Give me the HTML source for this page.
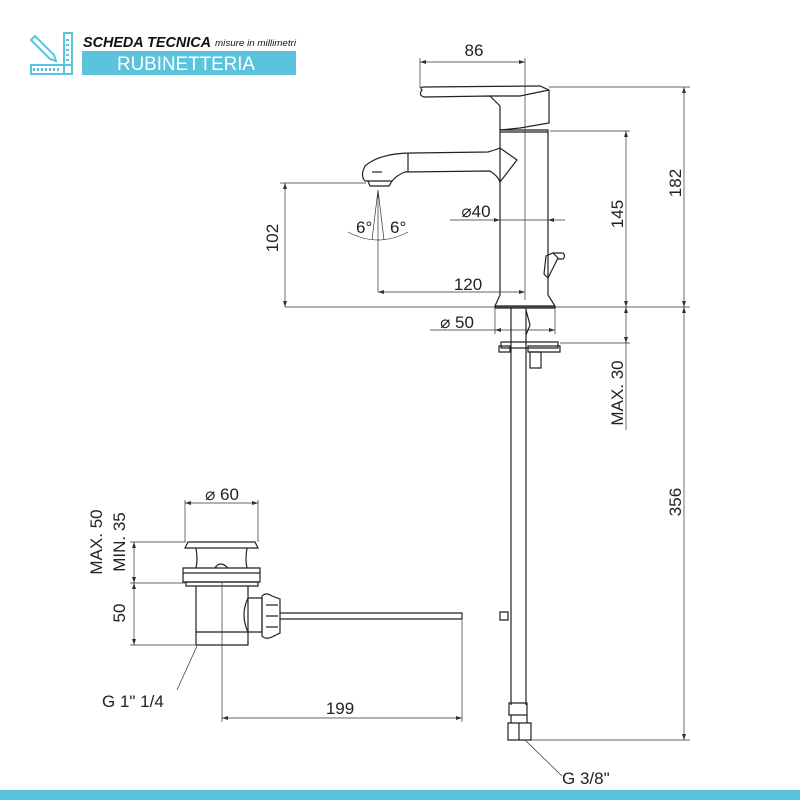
<!DOCTYPE html>
<html><head><meta charset="utf-8"><style>
html,body{margin:0;padding:0;background:#fff;}
svg{display:block;font-family:"Liberation Sans",sans-serif;}
</style></head><body>
<svg width="800" height="800" viewBox="0 0 800 800" xmlns="http://www.w3.org/2000/svg">
<rect width="800" height="800" fill="#fff"/>
<!-- header -->
<g stroke="#5bc3dc" stroke-width="2" fill="none">
  <path d="M31 65 H72 V74 H31 Z"/>
  <path d="M64 33 H72 V74 H64 Z"/>
  <path d="M34 68 v3 M38 68 v3 M42 68 v3 M46 68 v3 M50 68 v3 M54 68 v3 M58 68 v3"/>
  <path d="M66 40 h3 M66 45 h3 M66 50 h3 M66 55 h3 M66 60 h3"/>
  <path d="M31 40 L35 36 L54 55 L56 61 L50 59 Z"/>
</g>
<text x="83" y="47" font-size="15" font-weight="bold" font-style="italic" fill="#111" textLength="128" lengthAdjust="spacingAndGlyphs">SCHEDA TECNICA</text>
<text x="215" y="46" font-size="9" font-style="italic" fill="#111" textLength="81" lengthAdjust="spacingAndGlyphs">misure in millimetri</text>
<rect x="82" y="51" width="214" height="24" fill="#5bc3dc"/>
<text x="117" y="70" font-size="19" fill="#fff" textLength="138" lengthAdjust="spacingAndGlyphs">RUBINETTERIA</text>

<g stroke="#222" stroke-width="1.2" fill="none">
  <path d="M422 90 Q418 95 424 97 L490 96 L500 106 L500 130 L520 128 L549 123 L549 90 L540 86 L424 87 Q419 87 422 90 Z"/>
  <path d="M490 96 L520 96 L549 90"/>
  <path d="M500 130 L548 130 L548 295 L555 306 L495 306 L500 295 Z"/>
  <path d="M500 132 L548 132"/>
  <path d="M495 306 L495 308 L555 308 L555 306"/>
  <path d="M500 148 Q495 150 488 152 L412 153 Q380 153 365 166 Q360 176 365 181 L392 181 Q397 175 405 172 L490 171 Q498 176 500 182"/>
  <path d="M500 148 L517 160 L500 182"/>
  <path d="M408 153 L408 172"/>
  <path d="M368 181 L370 186 L389 186 L392 181"/>
  <path d="M372 172 h10"/>
  <path d="M546 256 L553 253 L558 258 L548 278 L544 274 Z"/>
  <path d="M553 253 L563 253 Q566 256 563 259 L558 259"/>
  <path d="M511 308 V705 M526 308 V705"/>
  <path d="M526 310 L530 325 L526 335"/>
  <path d="M501 342 H558 V348 H501 Z"/>
  <path d="M499 346 H510 V352 H499 Z M528 346 H560 V352 H528 Z"/>
  <path d="M530 352 H541 V368 H530 Z"/>
  <path d="M500 612 H508 V620 H500 Z"/>
  <path d="M509 703 H527 V715 H509 Z"/>
  <path d="M508 723 H531 V740 H508 Z M519 723 V740"/>
  <path d="M511 715 V723 M527 715 V723"/>
  <path d="M185 548 L188 542 L255 542 L258 548 Z"/>
  <path d="M196 548 Q198 560 196 568 M247 548 Q245 560 247 568"/>
  <path d="M215 568 Q220 560 228 568"/>
  <path d="M183 568 H260 V582 H183 Z M183 573 H260"/>
  <path d="M186 582 H258 V586 H186 Z"/>
  <path d="M196 586 V645 H248 V586"/>
  <path d="M196 632 H248"/>
  <path d="M248 598 H262 V632 H248 Q240 615 248 598"/>
  <path d="M262 596 Q266 592 272 596 L280 599 V633 L272 637 Q266 640 262 636 Z"/>
  <path d="M266 605 h12 M266 616 h12 M266 627 h12"/>
  <path d="M280 613 H462 V619 H280"/>
</g>

<g stroke="#333" stroke-width="0.7" fill="none">
  <path d="M420 62 H525 M420 58 V88 M525 58 V300" />
  <path d="M549 87 H690 M285 307 H690 M684 87 V307"/>
  <path d="M550 131 H630 M626 131 V307"/>
  <path d="M280 183 H366 M285 183 V307"/>
  <path d="M378 190 V292 M378 190 L372 240 M378 190 L384 240 M348 232 Q378 248 408 232"/>
  <path d="M378 292 H525"/>
  <path d="M450 220 H565"/>
  <path d="M430 330 H555 M495 308 V334 M555 308 V334"/>
  <path d="M560 343 H630 M626 307 V430"/>
  <path d="M684 307 V740 M530 740 H690"/>
  <path d="M525 740 L562 776"/>
  <path d="M185 503 H258 M185 500 V542 M258 500 V542"/>
  <path d="M130 542 H186 M130 583 H186 M130 645 H196 M134 542 V645"/>
  <path d="M222 582 V722 M462 620 V722 M222 718 H462"/>
  <path d="M197 646 L177 690"/>
</g>
<g fill="#333">
  <path d="M420 62 l6 -2 v4 Z M525 62 l-6 -2 v4 Z"/>
  <path d="M684 87 l-2 6 h4 Z M684 307 l-2 -6 h4 Z"/>
  <path d="M626 131 l-2 6 h4 Z M626 307 l-2 -6 h4 Z M626 307 l-2 6 h4 Z M626 343 l-2 -6 h4 Z"/>
  <path d="M285 183 l-2 6 h4 Z M285 307 l-2 -6 h4 Z"/>
  <path d="M378 292 l6 -2 v4 Z M525 292 l-6 -2 v4 Z"/>
  <path d="M500 220 l-6 -2 v4 Z M548 220 l6 -2 v4 Z"/>
  <path d="M495 330 l6 -2 v4 Z M555 330 l-6 -2 v4 Z"/>
  <path d="M684 307 l-2 6 h4 Z M684 740 l-2 -6 h4 Z"/>
  <path d="M185 503 l6 -2 v4 Z M258 503 l-6 -2 v4 Z"/>
  <path d="M134 542 l-2 6 h4 Z M134 583 l-2 -6 h4 Z M134 583 l-2 6 h4 Z M134 645 l-2 -6 h4 Z"/>
  <path d="M222 718 l6 -2 v4 Z M462 718 l-6 -2 v4 Z"/>
</g>

<g font-size="17" fill="#222">
  <text x="474" y="56" text-anchor="middle">86</text>
  <text x="468" y="290" text-anchor="middle">120</text>
  <text x="476" y="217" text-anchor="middle">⌀40</text>
  <text x="457" y="328" text-anchor="middle">⌀ 50</text>
  <text x="222" y="500" text-anchor="middle">⌀ 60</text>
  <text x="340" y="714" text-anchor="middle">199</text>
  <text x="102" y="707">G 1" 1/4</text>
  <text x="562" y="784">G 3/8"</text>
  <text x="356" y="233">6°</text>
  <text x="390" y="233">6°</text>
  <text transform="translate(681,183) rotate(-90)" text-anchor="middle">182</text>
  <text transform="translate(623,214) rotate(-90)" text-anchor="middle">145</text>
  <text transform="translate(278,238) rotate(-90)" text-anchor="middle">102</text>
  <text transform="translate(623,393) rotate(-90)" text-anchor="middle">MAX. 30</text>
  <text transform="translate(681,502) rotate(-90)" text-anchor="middle">356</text>
  <text transform="translate(102,542) rotate(-90)" text-anchor="middle">MAX. 50</text>
  <text transform="translate(125,542) rotate(-90)" text-anchor="middle">MIN. 35</text>
  <text transform="translate(125,613) rotate(-90)" text-anchor="middle">50</text>
</g>
<rect x="0" y="790" width="800" height="10" fill="#5bc3dc"/>
</svg>
</body></html>
